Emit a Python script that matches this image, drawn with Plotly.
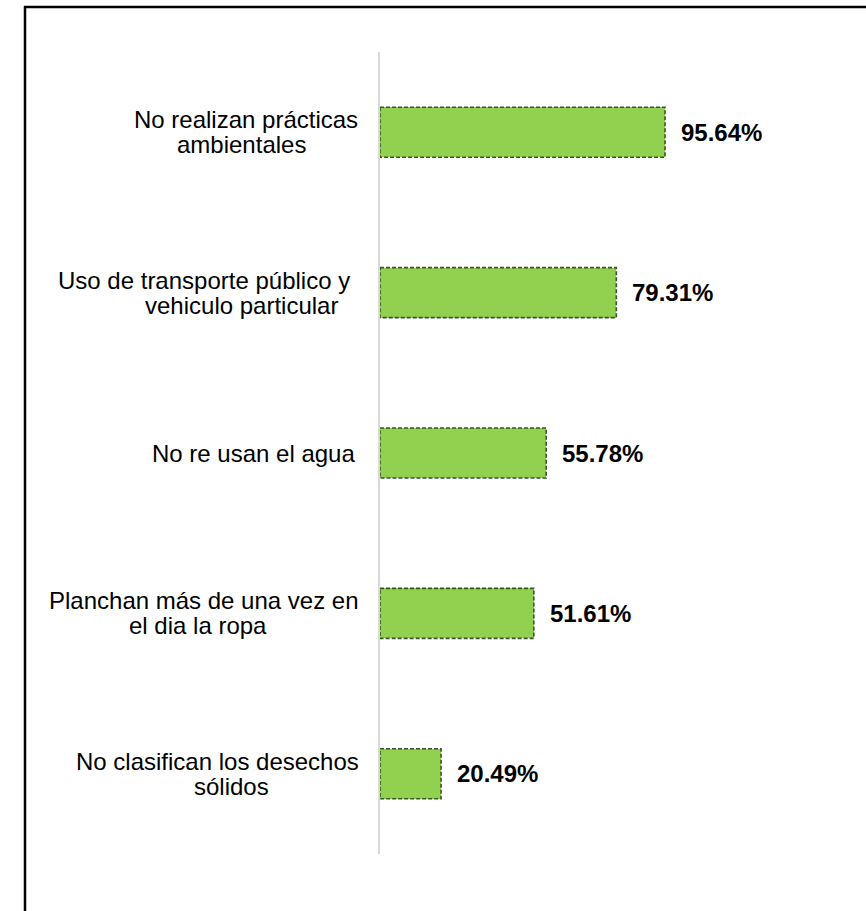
import plotly.graph_objects as go

# Survey results: share of households with each environmental practice gap
categories = [
    "No realizan prácticas<br>ambientales",
    "Uso de transporte público y<br>vehiculo particular",
    "No re usan el agua",
    "Planchan más de una vez en<br>el dia la ropa",
    "No clasifican los desechos<br>sólidos",
]
values = [95.64, 79.31, 55.78, 51.61, 20.49]
value_labels = ["95.64%", "79.31%", "55.78%", "51.61%", "20.49%"]

W, H = 866, 911
M_L, M_R, M_T, M_B = 380, 188, 52, 57
FONT = "Liberation Sans, Arial, sans-serif"
BAR_FILL = "#92d050"
BAR_EDGE = "#375623"
BAR_WIDTH = 0.312

# horizontal centre (px left of the axis) of each wrapped label line
LINE_CENTERS = [
    [134, 139],
    [176, 139],
    [127],
    [176, 182],
    [163, 149],
]

positions = list(range(len(categories)))

fig = go.Figure()
fig.add_trace(go.Bar(
    x=values,
    y=positions,
    orientation="h",
    width=BAR_WIDTH,
    marker=dict(color=BAR_FILL, line=dict(width=0)),
    hoverinfo="skip",
    showlegend=False,
))

shapes = []
# dashed outline around each bar, in data coordinates
for pos, val in zip(positions, values):
    shapes.append(dict(
        type="rect", xref="x", yref="y",
        x0=0, x1=val, y0=pos - BAR_WIDTH / 2, y1=pos + BAR_WIDTH / 2,
        line=dict(color=BAR_EDGE, width=1.6, dash="4px,2px"),
        fillcolor="rgba(0,0,0,0)", layer="above",
    ))

# outer frame (left and top edges)
plot_w = W - M_L - M_R
plot_h = H - M_T - M_B
def px_x(p):
    return (p - M_L) / plot_w
def px_y(q):
    return (H - M_B - q) / plot_h

shapes.append(dict(type="line", xref="paper", yref="paper",
                   x0=px_x(25), x1=px_x(25), y0=px_y(6), y1=px_y(920),
                   line=dict(color="black", width=2.5)))
shapes.append(dict(type="line", xref="paper", yref="paper",
                   x0=px_x(24), x1=px_x(880), y0=px_y(7), y1=px_y(7),
                   line=dict(color="black", width=2.5)))

annotations = []
# category labels, one annotation per line for tight line spacing
LINE_H = 25
for pos, cat, centers in zip(positions, categories, LINE_CENTERS):
    lines = cat.split("<br>")
    n = len(lines)
    for k, line in enumerate(lines):
        offset = ((n - 1) / 2 - k) * LINE_H
        annotations.append(dict(
            x=0, y=pos, xref="x", yref="y", text=line,
            xanchor="center", yanchor="middle", align="center",
            xshift=-centers[k], yshift=offset, showarrow=False,
            font=dict(family=FONT, size=24, color="black"),
        ))

# value labels to the right of each bar
for pos, val, lab in zip(positions, values, value_labels):
    annotations.append(dict(
        x=val, y=pos, xref="x", yref="y", text="<b>" + lab + "</b>",
        xanchor="left", yanchor="middle", xshift=14, showarrow=False,
        font=dict(family=FONT, size=24, color="black"),
    ))

fig.update_layout(
    width=W, height=H,
    margin=dict(l=M_L, r=M_R, t=M_T, b=M_B),
    paper_bgcolor="white", plot_bgcolor="white",
    shapes=shapes, annotations=annotations,
    xaxis=dict(range=[0, 100], visible=False, fixedrange=True),
    yaxis=dict(range=[len(categories) - 0.5, -0.5], showticklabels=False,
               showgrid=False, zeroline=False, ticks="",
               showline=True, linecolor="#d9d9d9", linewidth=2,
               fixedrange=True),
    bargap=0,
)

fig.write_html("out.html", include_plotlyjs=True, config={"displayModeBar": False})
